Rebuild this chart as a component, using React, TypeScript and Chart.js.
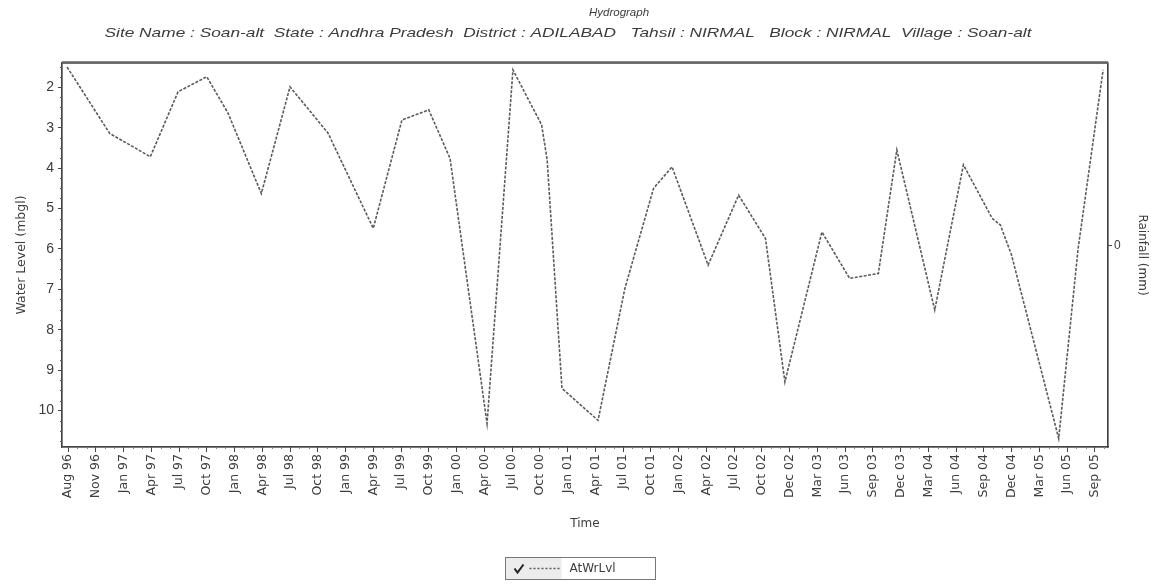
import React, { useEffect, useRef } from 'react';
import { Chart, registerables } from 'chart.js';

Chart.register(...registerables);

const TITLE = 'Hydrograph';
const SUBTITLE =
  'Site Name : Soan-alt  State : Andhra Pradesh  District : ADILABAD   Tahsil : NIRMAL   Block : NIRMAL  Village : Soan-alt';
const SERIES_LABEL = 'AtWrLvl';
const Y_TITLE = 'Water Level (mbgl)';
const Y2_TITLE = 'Rainfall (mm)';
const X_TITLE = 'Time';

const tickLabels = [
  'Aug 96', 'Nov 96', 'Jan 97', 'Apr 97', 'Jul 97', 'Oct 97', 'Jan 98', 'Apr 98', 'Jul 98', 'Oct 98',
  'Jan 99', 'Apr 99', 'Jul 99', 'Oct 99', 'Jan 00', 'Apr 00', 'Jul 00', 'Oct 00', 'Jan 01', 'Apr 01',
  'Jul 01', 'Oct 01', 'Jan 02', 'Apr 02', 'Jul 02', 'Oct 02', 'Dec 02', 'Mar 03', 'Jun 03', 'Sep 03',
  'Dec 03', 'Mar 04', 'Jun 04', 'Sep 04', 'Dec 04', 'Mar 05', 'Jun 05', 'Sep 05',
];
// tick positions in months since Jan 1996
const tickMonths = [
  7, 10, 13, 16, 19, 22, 25, 28, 31, 34, 37, 40, 43, 46, 49, 52, 55, 58, 61, 64,
  67, 70, 73, 76, 79, 82, 85, 88, 91, 94, 97, 100, 103, 106, 109, 112, 115, 118,
];
// observation times (months since Jan 1996)
const obsMonths = [
  6.9, 11.5, 15.9, 18.9, 22.0, 24.3, 27.9, 31.0, 35.1, 40.0,
  43.1, 46.0, 48.3, 52.3, 55.1, 58.2, 58.8, 60.4, 64.3, 67.2,
  70.3, 72.3, 76.2, 79.5, 82.4, 84.5, 88.5, 91.5, 94.6, 96.6,
  100.7, 103.8, 106.9, 107.8, 109.0, 114.1, 116.2, 118.9,
];
// water level below ground (m)
const waterLevel = [
  1.5, 3.14, 3.72, 2.11, 1.74, 2.64, 4.63, 1.99, 3.13, 5.49,
  2.81, 2.56, 3.76, 10.32, 1.57, 2.93, 3.8, 9.45, 10.24, 6.98,
  4.5, 3.97, 6.4, 4.67, 5.74, 9.29, 5.58, 6.73, 6.61, 3.55,
  7.51, 3.92, 5.24, 5.41, 6.15, 10.69, 5.99, 1.57,
];
const yTicks = [2, 3, 4, 5, 6, 7, 8, 9, 10];
const y2Ticks = [0];

const TEXT = '#3c3c3c';
const LINE = '#5a5a5a';
const FONT = '"Liberation Sans", Arial, sans-serif';
const WIDE = '"DejaVu Sans", "Liberation Sans", sans-serif';

const decorPlugin = {
  id: 'decor',
  afterDraw(chart: any) {
    const { ctx, chartArea: ca, width } = chart;
    ctx.save();
    // plot frame
    ctx.strokeStyle = '#444';
    ctx.lineWidth = 1.2;
    ctx.strokeRect(ca.left, ca.top, ca.right - ca.left, ca.bottom - ca.top);
    ctx.strokeStyle = '#666';
    ctx.lineWidth = 2.5;
    ctx.beginPath();
    ctx.moveTo(ca.left, ca.top - 0.5);
    ctx.lineTo(ca.right, ca.top - 0.5);
    ctx.stroke();

    // minor y ticks
    const ys = chart.scales.y;
    ctx.strokeStyle = '#555';
    ctx.lineWidth = 1;
    for (let k = 6; k <= 43; k++) {
      const v = k / 4;
      if (v < ys.min || v > ys.max || Number.isInteger(v)) continue;
      const py = Math.round(ys.getPixelForValue(v)) + 0.5;
      ctx.beginPath();
      ctx.moveTo(ca.left - 2, py);
      ctx.lineTo(ca.left, py);
      ctx.stroke();
    }
    // minor x ticks
    const xs = chart.scales.x;
    ctx.strokeStyle = '#888';
    for (let m = 7; m <= 119; m++) {
      if (tickMonths.includes(m)) continue;
      const px = Math.round(xs.getPixelForValue(m)) + 0.5;
      ctx.beginPath();
      ctx.moveTo(px, ca.bottom);
      ctx.lineTo(px, ca.bottom + 2);
      ctx.stroke();
    }

    // titles
    ctx.fillStyle = TEXT;
    ctx.textAlign = 'center';
    ctx.textBaseline = 'middle';
    ctx.font = `italic 11.5px ${FONT}`;
    ctx.fillText(TITLE, 619, 13);
    ctx.font = `italic 13px ${FONT}`;
    const w = ctx.measureText(SUBTITLE).width;
    ctx.save();
    ctx.translate(568, 33);
    ctx.scale(927 / w, 1);
    ctx.fillText(SUBTITLE, 0, 0);
    ctx.restore();

    // legend
    const ds = chart.data.datasets[0];
    const bw = 150, bh = 22;
    const bx = Math.round(width / 2 - bw / 2 + 4) + 0.5;
    const by = 557.5;
    ctx.fillStyle = '#ececec';
    ctx.fillRect(bx, by, 56, bh);
    ctx.strokeStyle = '#777';
    ctx.lineWidth = 1;
    ctx.strokeRect(bx, by, bw, bh);
    // check mark
    ctx.strokeStyle = '#222';
    ctx.lineWidth = 2;
    ctx.beginPath();
    ctx.moveTo(bx + 9, by + 11);
    ctx.lineTo(bx + 12, by + 15);
    ctx.lineTo(bx + 18, by + 7);
    ctx.stroke();
    // line sample
    ctx.strokeStyle = ds.borderColor;
    ctx.lineWidth = 1.5;
    ctx.setLineDash([2, 2]);
    ctx.beginPath();
    ctx.moveTo(bx + 24, by + 11);
    ctx.lineTo(bx + 54, by + 11);
    ctx.stroke();
    ctx.setLineDash([]);
    ctx.fillStyle = TEXT;
    ctx.font = `12px ${WIDE}`;
    ctx.textAlign = 'left';
    ctx.fillText(ds.label, bx + 64, by + 11.5);
    ctx.restore();
  },
};

export default function App() {
  const ref = useRef<HTMLCanvasElement | null>(null);

  useEffect(() => {
    if (!ref.current) return;
    const chart = new Chart(ref.current, {
      type: 'line',
      data: {
        datasets: [
          {
            label: SERIES_LABEL,
            data: obsMonths.map((m, i) => ({ x: m, y: waterLevel[i] })),
            borderColor: LINE,
            borderWidth: 1.6,
            borderDash: [3, 1.5],
            pointRadius: 0,
            tension: 0,
            fill: false,
          },
        ],
      },
      plugins: [decorPlugin],
      options: {
        responsive: false,
        animation: false,
        layout: { padding: { left: 10, top: 63, right: 0, bottom: 53 } },
        plugins: {
          legend: { display: false },
          title: { display: false },
          tooltip: { enabled: false },
        },
        scales: {
          x: {
            type: 'linear',
            position: 'bottom',
            min: 6.35,
            max: 119.43,
            afterBuildTicks: (s: any) => {
              s.ticks = tickMonths.map((v) => ({ value: v }));
            },
            afterFit: (s: any) => {
              s.height = 86;
            },
            grid: {
              display: true,
              drawOnChartArea: false,
              drawTicks: true,
              tickLength: 5,
              color: '#444',
            },
            border: { display: true, color: '#444', width: 1.2 },
            ticks: {
              autoSkip: false,
              minRotation: 90,
              maxRotation: 90,
              padding: 2,
              color: TEXT,
              font: { family: WIDE, size: 12.5 },
              callback: (_v: any, i: number) => tickLabels[i],
            },
            title: {
              display: true,
              text: X_TITLE,
              color: TEXT,
              font: { family: WIDE, size: 12 },
              padding: { top: 2, bottom: 2 },
            },
          },
          y: {
            type: 'linear',
            position: 'left',
            reverse: true,
            min: 1.4,
            max: 10.9,
            afterBuildTicks: (s: any) => {
              s.ticks = yTicks.map((v) => ({ value: v }));
            },
            afterFit: (s: any) => {
              s.width = 52;
            },
            grid: {
              display: true,
              drawOnChartArea: false,
              drawTicks: true,
              tickLength: 4,
              color: '#444',
            },
            border: { display: true, color: '#444', width: 1.2 },
            ticks: {
              padding: 4,
              color: TEXT,
              font: { family: FONT, size: 14 },
            },
            title: {
              display: true,
              text: Y_TITLE,
              color: TEXT,
              font: { family: WIDE, size: 12.5 },
              padding: { top: 4, bottom: 2 },
            },
          },
          y2: {
            type: 'linear',
            position: 'right',
            min: -1.05,
            max: 0.95,
            afterBuildTicks: (s: any) => {
              s.ticks = y2Ticks.map((v) => ({ value: v }));
            },
            afterFit: (s: any) => {
              s.width = 43;
            },
            grid: {
              display: true,
              drawOnChartArea: false,
              drawTicks: true,
              tickLength: 4,
              color: '#444',
            },
            border: { display: true, color: '#444', width: 1.2 },
            ticks: {
              padding: 2,
              color: TEXT,
              font: { family: FONT, size: 12 },
            },
            title: {
              display: true,
              text: Y2_TITLE,
              color: TEXT,
              font: { family: WIDE, size: 12 },
              padding: { top: 2, bottom: 2 },
            },
          },
        },
      } as any,
    });
    return () => chart.destroy();
  }, []);

  return (
    <div style={{ position: 'fixed', left: 0, top: 0, width: 1151, height: 586, background: '#fff' }}>
      <canvas ref={ref} width={1151} height={586} style={{ display: 'block' }} />
    </div>
  );
}
